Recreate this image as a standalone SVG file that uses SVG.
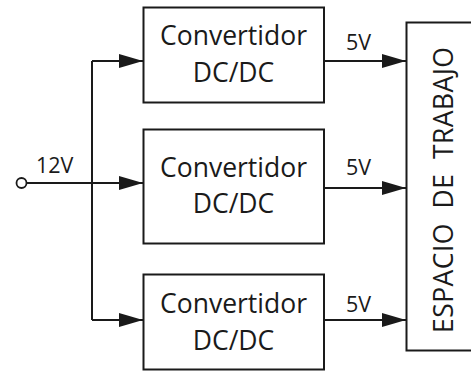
<svg xmlns="http://www.w3.org/2000/svg" width="471" height="371" viewBox="0 0 471 371">
  <style>
    .box { fill: #ffffff; stroke: #1a1a1a; stroke-width: 2; }
    .wire { fill: none; stroke: #1a1a1a; stroke-width: 2; }
    .lbl { font-family: "Open Sans", "Noto Sans", "Liberation Sans", sans-serif; fill: #1a1a1a; }
    .big { font-size: 26.5px; text-anchor: middle; }
    .small { font-size: 21.5px; }
  </style>
  <defs>
    <marker id="arrow" viewBox="0 0 24 14" refX="24" refY="7" markerWidth="24" markerHeight="14" markerUnits="userSpaceOnUse" orient="auto">
      <path d="M0,0 L24,7 L0,14 Z" fill="#1a1a1a"/>
    </marker>
  </defs>
  <rect width="471" height="371" fill="#ffffff"/>

  <!-- connectors -->
  <g id="connectors">
    <!-- 12V input and distribution bus -->
    <path class="wire" d="M26.5,183 H143" marker-end="url(#arrow)"/>
    <path class="wire" d="M92,61 V320"/>
    <path class="wire" d="M92,61 H143" marker-end="url(#arrow)"/>
    <path class="wire" d="M92,320 H143" marker-end="url(#arrow)"/>
    <!-- 5V outputs -->
    <path class="wire" d="M324,61 H406" marker-end="url(#arrow)"/>
    <path class="wire" d="M324,188 H406" marker-end="url(#arrow)"/>
    <path class="wire" d="M324,320 H406" marker-end="url(#arrow)"/>
    <circle cx="21.5" cy="183" r="5" fill="#ffffff" stroke="#1a1a1a" stroke-width="1.8"/>
    <text class="lbl small" x="36" y="172.5">12V</text>
    <text class="lbl small" x="346" y="50">5V</text>
    <text class="lbl small" x="346" y="175">5V</text>
    <text class="lbl small" x="346" y="312">5V</text>
  </g>

  <!-- converters -->
  <g id="conv1">
    <rect class="box" x="143.5" y="7.5" width="180.5" height="95"/>
    <text class="lbl big" x="233.5" y="45">Convertidor</text>
    <text class="lbl big" x="233.5" y="82">DC/DC</text>
  </g>
  <g id="conv2">
    <rect class="box" x="143.5" y="129.5" width="180.5" height="114"/>
    <text class="lbl big" x="233.5" y="177">Convertidor</text>
    <text class="lbl big" x="233.5" y="213">DC/DC</text>
  </g>
  <g id="conv3">
    <rect class="box" x="143.5" y="274.5" width="180.5" height="95"/>
    <text class="lbl big" x="233.5" y="313">Convertidor</text>
    <text class="lbl big" x="233.5" y="350">DC/DC</text>
  </g>

  <!-- workspace -->
  <g id="workspace">
    <rect class="box" x="406.5" y="22.5" width="80" height="328"/>
    <text class="lbl big" xml:space="preserve" transform="translate(453,190) rotate(-90)" x="0" y="0" textLength="286" lengthAdjust="spacing">ESPACIO  DE  TRABAJO</text>
  </g>
</svg>
